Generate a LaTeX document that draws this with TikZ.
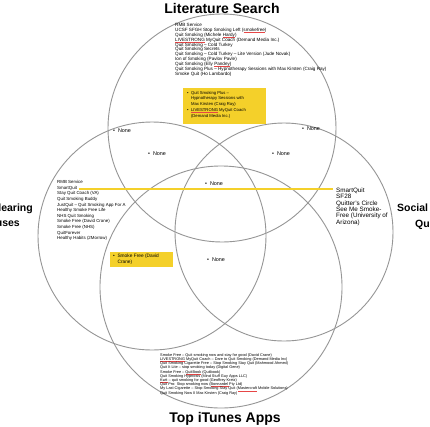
\documentclass[tikz,border=0pt]{standalone}
\usepackage{fontspec}
\setmainfont{Liberation Sans}
\definecolor{vyel}{RGB}{244,208,42}
\definecolor{vgray}{RGB}{150,150,150}
\definecolor{sred}{RGB}{230,70,70}
\newcommand\spl[1]{\setbox0\hbox{#1}\rlap{\raisebox{-0.9pt}{\textcolor{sred}{\leaders\hbox to 0.7pt{\hss\rule{0.4pt}{0.3pt}\hss}\hskip\wd0}}}\box0\relax}
\begin{document}
\begin{tikzpicture}[x=1pt,y=-1pt,
  circ/.style={draw=vgray,line width=0.9pt,circle,inner sep=0},
  ttl/.style={font=\bfseries\fontsize{14}{15}\selectfont,inner sep=0},
  sttl/.style={font=\bfseries\fontsize{10.5}{13}\selectfont,inner sep=0},
  toptxt/.style={font=\fontsize{4.6}{5}\selectfont,inner sep=0,anchor=base west},
  tiny/.style={font=\fontsize{3.85}{4.4}\selectfont,inner sep=0,anchor=base west},
  ltxt/.style={font=\fontsize{4.4}{5}\selectfont,inner sep=0,anchor=base west},
  rtxt/.style={font=\fontsize{6.3}{6.4}\selectfont,inner sep=0,anchor=base west},
  none/.style={font=\fontsize{5.4}{6}\selectfont,inner sep=0,anchor=west},
  ybox/.style={fill=vyel,draw=none},
  btxt/.style={font=\fontsize{4.2}{5.7}\selectfont,inner sep=0,anchor=north west,align=left}]
\useasboundingbox (0,0) rectangle (430,426);
\fill[white] (0,0) rectangle (430,426);
% circles
\node[circ,minimum size=228pt] (T) at (222,128) {};
\node[circ,minimum size=228pt] (L) at (152,236) {};
\node[circ,minimum size=218pt] (R) at (284,232) {};
\node[circ,minimum size=242pt] (B) at (221,287) {};
% titles
\node[ttl] (tT) at (222,8) {Literature Search};
\node[ttl] (tB) at (225,419) {Top iTunes Apps};
\node[sttl,anchor=base east] (tL1) at (33,211) {Clearing};
\node[sttl,anchor=base east] (tL2) at (20,226) {Houses};
\node[sttl,anchor=base west] (tR1) at (397,211) {Social};
\node[sttl,anchor=base west] (tR2) at (415,227) {Quit};
% top list
\foreach \t [count=\i] in {RMB Service,
  UCSF SFGH Stop Smoking Left (\spl{smokefree}),
  Quit Smoking (Michele \spl{Hardy}),
  \spl{LIVESTRONG} MyQuit Coach (Demand Media Inc.),
  Quit Smoking -- Cold Turkey,
  Quit Smoking Secrets,
  Quit Smoking -- Cold Turkey -- Lite Version (Jude Novak),
  Ion of Smoking (Pavlov Pavle),
  Quit Smoking (Elly \spl{Pandey}),
  Quit Smoking Plus -- Hypnotherapy Sessions with Max Kirsten (Craig Ray),
  Smoke Quit (Ho Lambardo)}
  \node[toptxt] (top\i) at (175,{26.4+4.9*(\i-1)}) {\t};
% left list
\foreach \t [count=\i] in {RMB Service,SmartQuit,Stay Quit Coach (VA),Quit Smoking Buddy,
  JustQuit -- Quit Smoking App For A,Healthy Smoke Free Life,NHS Quit Smoking,
  Smoke Free (David Crane),Smoke Free (NHS),QuitForever,Healthy Habits (2Morrow)}
  \node[ltxt] (lft\i) at (57,{183.6+5.6*(\i-1)}) {\t};
% right list
\foreach \t [count=\i] in {SmartQuit,SF28,Quitter's Circle,See Me Smoke-,Free (University of,Arizona)}
  \node[rtxt] (rgt\i) at (336,{192.2+6.4*(\i-1)}) {\t};
% bottom list
\foreach \t [count=\i] in {Smoke Free -- Quit smoking now and stay for good (David Crane),
  \spl{LIVESTRONG} MyQuit Coach -- Dare to Quit Smoking (Demand Media Inc),
  Quit Smoking Cigarette Free -- Stop Smoking Stay Quit (Mahmood Ahmed),
  Quit It Lite -- stop smoking today (Digital Gene),
  Smoke Free -- \spl{QuitBook} (Quitbook),
  Quit Smoking Hypnosis (Mind Stuff Guy Apps LLC),
  \spl{Kwit} -- quit smoking for good (Geoffrey Kretz),
  Quit Pro: Stop smoking now (\spl{Bonnardel} Pty Ltd),
  My Last Cigarette -- Stop Smoking Stay Quit (\spl{Mastercraft} Mobile Solutions),
  Quit Smoking Now II Max Kirsten (Craig Ray)}
  \node[tiny] (bot\i) at (160,{356.3+4.2*(\i-1)}) {\t};
% yellow boxes
\node[ybox,minimum width=83pt,minimum height=36pt,anchor=north west] (yb1) at (183,88) {};
\node[btxt] (yb1t) at (187,91) {\textbullet\ \ Quit Smoking Plus --\\
  \phantom{\textbullet\ \ }Hypnotherapy Sessions with\\
  \phantom{\textbullet\ \ }Max Kirsten (Craig Ray)\\
  \textbullet\ \ \spl{LIVESTRONG} MyQuit Coach\\
  \phantom{\textbullet\ \ }(Demand Media Inc.)};
\node[ybox,minimum width=63pt,minimum height=15pt,anchor=north west] (yb2) at (110,252) {};
\node[btxt,font=\fontsize{4.8}{6.2}\selectfont] (yb2t) at (113,253.5) {\textbullet\ \ Smoke Free (David\\
  \phantom{\textbullet\ \ }Crane)};
% None labels
\node[none] (n1) at (113,131) {\textbullet\ \ None};
\node[none] (n2) at (148,153.5) {\textbullet\ \ None};
\node[none] (n3) at (205,184) {\textbullet\ \ None};
\node[none] (n4) at (272,153.5) {\textbullet\ \ None};
\node[none] (n5) at (302,129) {\textbullet\ \ None};
\node[none] (n6) at (207,260) {\textbullet\ \ None};
% connector between the two SmartQuit entries
\draw[vyel,line width=1.4pt] ([xshift=2pt]lft2.east |- 0,189) -- ([xshift=-3pt]rgt1.west |- 0,189);
\end{tikzpicture}
\end{document}
